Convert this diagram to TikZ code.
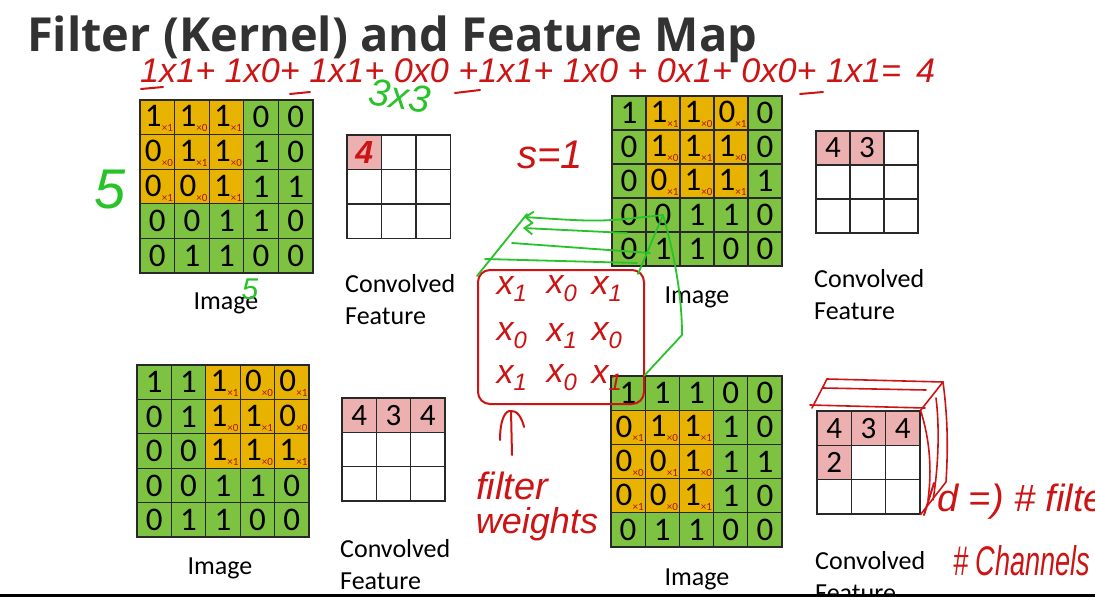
\documentclass[tikz,border=0pt]{standalone}
\usepackage{fontspec}
\setmainfont{Carlito}
\newfontfamily\titlefont{Open Sans}
\newfontfamily\handfont{Liberation Sans}
\usetikzlibrary{arrows.meta,calc}
\definecolor{cellorange}{RGB}{232,178,0}
\definecolor{cellgreen}{RGB}{126,194,66}
\definecolor{convpink}{RGB}{236,176,176}
\definecolor{gridline}{RGB}{40,40,40}
\definecolor{wred}{RGB}{170,20,20}
\definecolor{penred}{RGB}{205,20,20}
\definecolor{pengreen}{RGB}{40,195,40}
\definecolor{titlegray}{RGB}{50,50,50}
\tikzset{
 cellbox/.style={draw=gridline, line width=1.3pt, inner sep=0pt, font=\fontsize{33}{33}\selectfont},
 convcell/.style={draw=gridline, line width=1.3pt, inner sep=0pt, font=\fontsize{31}{31}\selectfont},
 wsub/.style={text=wred, font=\fontsize{11}{11}\selectfont, inner sep=0pt},
 caption/.style={font=\fontsize{26}{32}\selectfont, inner sep=0pt, align=left},
 redpen/.style={draw=penred, line width=2pt, line cap=round, line join=round},
 greenpen/.style={draw=pengreen, line width=1.8pt, line cap=round, line join=round},
 redhand/.style={text=penred, inner sep=0pt},
 greenhand/.style={text=pengreen, inner sep=0pt},
}
\newcommand\imggrid[6]{%
 \foreach \vals [count=\ri from 0] in {{1,1,1,0,0},{0,1,1,1,0},{0,0,1,1,1},{0,0,1,1,0},{0,1,1,0,0}}{%
  \foreach \v [count=\ci from 0] in \vals {%
   \pgfmathtruncatemacro\inwin{and(and(\ri>#5-1,\ri<#5+3),and(\ci>#6-1,\ci<#6+3))}%
   \pgfmathtruncatemacro\wt{mod(\ri-#5+\ci-#6+1,2)}%
   \ifnum\inwin=1
     \node[cellbox, fill=cellorange, minimum size=#4pt] (#1-\ri-\ci) at ({#2+(\ci+0.5)*#4},{#3+(\ri+0.5)*#4}) {\raisebox{2pt}{\hspace{-8pt}\v}};
     \node[wsub] (#1-w-\ri-\ci) at ({#2+(\ci+0.5)*#4+10},{#3+(\ri+0.5)*#4+11}) {×\wt};
   \else
     \node[cellbox, fill=cellgreen, minimum size=#4pt] (#1-\ri-\ci) at ({#2+(\ci+0.5)*#4},{#3+(\ri+0.5)*#4}) {\v};
   \fi
  }%
 }%
}
\newcommand\convgrid[5]{%
 \foreach \v [count=\k from 0] in {#5}{%
  \pgfmathtruncatemacro\ri{div(\k,3)}%
  \pgfmathtruncatemacro\ci{mod(\k,3)}%
  \if\v-\def\cf{white}\def\ct{}\else\def\cf{convpink}\if\v*\def\ct{}\else\edef\ct{\v}\fi\fi
  \node[convcell, fill=\cf, minimum size=#4pt] (#1-\ri-\ci) at ({#2+(\ci+0.5)*#4},{#3+(\ri+0.5)*#4}) {\ct};
 }%
}
\begin{document}
\begin{tikzpicture}[x=1pt,y=-1pt]
\useasboundingbox (0,0) rectangle (1095,597);
\clip (0,0) rectangle (1095,597);
\fill[white] (0,0) rectangle (1095,597);

% title
\node[anchor=base west, text=titlegray, inner sep=0pt] (title) at (27,52)
  {\resizebox{730pt}{!}{\titlefont\bfseries Filter (Kernel) and Feature Map}};

% image grids
\imggrid{ga}{140}{100}{34.6}{0}{0}
\imggrid{gb}{612}{96}{34}{0}{1}
\imggrid{gc}{137}{365}{34.4}{0}{2}
\imggrid{gd}{611}{376}{34.2}{1}{0}

% convolved grids
\convgrid{ca}{347}{135}{34.5}{*,-,-,-,-,-,-,-,-}
\convgrid{cb}{816}{131}{34}{4,3,-,-,-,-,-,-,-}
\convgrid{cc}{342}{398}{34.3}{4,3,4,-,-,-,-,-,-}
\convgrid{cd}{817}{411}{34.3}{4,3,4,2,-,-,-,-,-}

% captions
\node[caption] (capa) at (226,303) {Image};
\node[caption] (capb) at (697,297) {Image};
\node[caption] (capc) at (220,568) {Image};
\node[caption] (capd) at (697,579) {Image};
\node[caption, anchor=north west] (cfa) at (345,274) {Convolved\\Feature};
\node[caption, anchor=north west] (cfb) at (814,269) {Convolved\\Feature};
\node[caption, anchor=north west] (cfc) at (340,539) {Convolved\\Feature};
\node[caption, anchor=north west] (cfd) at (815,551) {Convolved\\Feature};

% handwritten formula
\node[redhand, anchor=base west] (formula) at (140,82)
  {\resizebox{795pt}{!}{\handfont\itshape 1x1+ 1x0+ 1x1+ 0x0 +1x1+ 1x0 + 0x1+ 0x0+ 1x1= \,4}};
\draw[redpen] (141,89) -- (163,87);
\draw[redpen] (290,94) -- (310,92);
\draw[redpen] (455,93) -- (480,90);
\draw[redpen] (800,94) -- (823,92);

\node[greenhand, rotate=-8, font=\handfont\itshape\fontsize{38}{38}\selectfont] (threebythree) at (400,96) {3x3};
\node[redhand, font=\handfont\itshape\fontsize{40}{40}\selectfont] (stride) at (550,155) {s=1};
\node[greenhand, font=\handfont\itshape\fontsize{56}{56}\selectfont] (fivea) at (110,190) {5};
\node[greenhand, font=\handfont\itshape\fontsize{30}{30}\selectfont] (fiveb) at (250,289) {5};
\node[redhand, font=\handfont\bfseries\itshape\fontsize{32}{32}\selectfont] (handfour) at (ca-0-0) {4};

% filter box
\node[draw=penred, line width=2pt, rounded corners=12pt, minimum width=166pt, minimum height=134pt] (filterbox) at (561,337) {};
\foreach \txt/\xx/\yy [count=\n] in {1/512/289,0/562/289,1/607/289,0/512/336,1/562/336,0/607/336,1/512/378,0/562/378,1/607/378}{
  \node[redhand, font=\handfont\itshape\fontsize{34}{34}\selectfont] (fw\n) at (\xx,\yy) {x\textsubscript{\txt}};
}
\coordinate (arrtail) at (512,455);
\coordinate (arrtip) at (511,411);
\draw[redpen] (arrtail) -- (arrtip);
\draw[redpen] (500,440) .. controls (500,418) and (506,410) .. (arrtip) .. controls (517,410) and (522,418) .. (524,427);
\node[redhand, font=\handfont\itshape\fontsize{38}{38}\selectfont] (filtertxt) at (512,486) {filter};
\node[redhand, font=\handfont\itshape\fontsize{36}{36}\selectfont] (weightstxt) at (537,524) {weights};

% green strokes
\draw[greenpen,-{Straight Barb[length=8pt,width=12pt]}] (gb-3-1.center) .. controls (600,222) .. (524,217);
\draw[greenpen,-{Straight Barb[length=8pt,width=12pt]}] (627,233) -- (523,228);
\draw[greenpen] (650,253) -- (512,243);
\draw[greenpen] (637,263) -- (485,259);
\draw[greenpen] (477,276) -- (527,214);
\draw[greenpen] (gb-3-1.center) -- (638,274);
\draw[greenpen] (gb-3-1.center) .. controls (676,260) and (682,300) .. (682,335) -- (gd-0-1.north west);

% 3D box around last convolved feature
\draw[redpen, line width=1.6pt] (827,379) -- (943,382);
\draw[redpen, line width=1.6pt] (823,388) -- (926,390);
\draw[redpen, line width=1.6pt] (810,405) -- (925,408);
\draw[redpen, line width=1.6pt] (827,379) -- (812,408);
\draw[redpen, line width=1.6pt] (943,382) -- (cd-0-2.north east);
\draw[redpen, line width=1.6pt] (943,382) .. controls (948,420) and (948,450) .. (946,482) -- (cd-2-2.south east);
\draw[redpen, line width=1.6pt] (936,398) .. controls (940,430) and (938,470) .. (933,500);
\draw[redpen, line width=1.6pt] (cd-0-2.north east) .. controls (930,440) and (932,470) .. (928,500);

\draw[redpen] (924,515) -- (934,483);
\node[redhand, anchor=west, font=\handfont\itshape\fontsize{38}{38}\selectfont] (dfilters) at (937,502) {d =) \# filters};
\node[redhand, anchor=west] (channels) at (953,561) {\resizebox{137pt}{30pt}{\handfont\itshape \# Channels}};

% bottom rule
\fill[black] (0,594) rectangle (1095,597);
\end{tikzpicture}
\end{document}
